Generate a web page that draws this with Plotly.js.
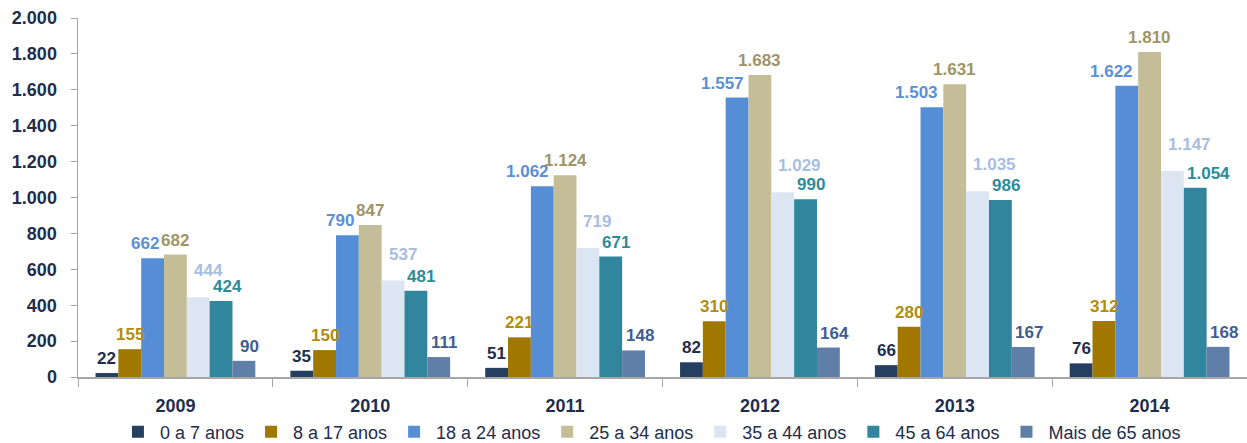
<!DOCTYPE html>
<html><head><meta charset="utf-8">
<script src="https://cdn.plot.ly/plotly-3.0.1.min.js"></script>
<style>html,body{margin:0;padding:0;background:#fff}#chart{width:1247px;height:443px}</style>
</head><body><div id="chart"></div>
<script>
var years = ['2009','2010','2011','2012','2013','2014'];
var seriesNames = ['0 a 7 anos','8 a 17 anos','18 a 24 anos','25 a 34 anos','35 a 44 anos','45 a 64 anos','Mais de 65 anos'];
var age0to7 = [22,35,51,82,66,76];
var age8to17 = [155,150,221,310,280,312];
var age18to24 = [662,790,1062,1557,1503,1622];
var age25to34 = [682,847,1124,1683,1631,1810];
var age35to44 = [444,537,719,1029,1035,1147];
var age45to64 = [424,481,671,990,986,1054];
var age65plus = [90,111,148,164,167,168];
var seriesValues = [age0to7,age8to17,age18to24,age25to34,age35to44,age45to64,age65plus];
var barColors = ['#243F60','#A07800','#558ED5','#C4BD97','#DCE6F2','#31859C','#5F7EA8'];
var labelColors = ['#1F2D4D','#B08C10','#5B8FD8','#9E9468','#A8BEE0','#2E8B9A','#3F5E8F'];

// label placement style (per series): anchor, pixel nudge, extra lift
var labelAnchor = ['center','center','right','center','left','left','center'];
var labelNudge  = [0,0,-3,0,5,1,6];
var labelLift   = [3,3,3,3,15,3,3];

var M = {l:78, r:0, t:18, b:66};
var W = 1247, H = 443, BARGAP = 0.18;
var catW = (W - M.l - M.r) / years.length;
var barW = catW * (1 - BARGAP) / seriesValues.length;

function fmt(n){ return String(n).replace(/\B(?=(\d{3})+(?!\d))/g, '.'); }

var traces = seriesValues.map(function(v,i){
  return {
    type:'bar', name:seriesNames[i], x:years, y:v,
    marker:{color:barColors[i], line:{width:0}},
    hoverinfo:'skip'
  };
});

var annotations = [];
seriesValues.forEach(function(v,i){
  var center = (i - (seriesValues.length-1)/2) * barW;
  var shift = center + labelNudge[i];
  if (labelAnchor[i] === 'right') shift = center + barW/2 + labelNudge[i];
  if (labelAnchor[i] === 'left') shift = center - barW/2 + labelNudge[i];
  v.forEach(function(val,j){
    annotations.push({
      x: j, y: val, xref:'x', yref:'y', text: fmt(val), showarrow:false,
      xanchor: labelAnchor[i], yanchor:'bottom', xshift: shift, yshift: labelLift[i],
      font:{family:'Arial, Liberation Sans, sans-serif', size:17, color:labelColors[i], weight:'bold'}
    });
  });
});

var layout = {
  width:W, height:H,
  margin:M,
  separators:',.',
  barmode:'group', bargap:BARGAP, bargroupgap:0,
  plot_bgcolor:'#fff', paper_bgcolor:'#fff',
  showlegend:true,
  annotations: annotations,
  legend:{orientation:'h', x:0.522, xanchor:'center', xref:'container', y:0.025, yref:'container', yanchor:'middle',
    font:{family:'Arial, Liberation Sans, sans-serif', size:18, color:'#1F2D4D'},
    traceorder:'normal', itemwidth:34},
  xaxis:{type:'category', range:[-0.5, years.length-0.5], showline:true, linecolor:'#A6A6A6', linewidth:1.5,
    ticks:'outside', tickson:'boundaries', ticklen:8, tickcolor:'#A6A6A6', ticklabelstandoff:12,
    tickfont:{family:'Arial, Liberation Sans, sans-serif', size:18, color:'#1F2D4D', weight:'bold'},
    showgrid:false, fixedrange:true},
  yaxis:{range:[0,2000], dtick:200, tickformat:',', showline:true, linecolor:'#A6A6A6', linewidth:1.5,
    ticks:'outside', ticklen:6, tickcolor:'#A6A6A6', showgrid:false, zeroline:false, ticklabelstandoff:10,
    tickfont:{family:'Arial, Liberation Sans, sans-serif', size:18, color:'#1F2D4D', weight:'bold'},
    fixedrange:true}
};
Plotly.newPlot('chart', traces, layout, {displayModeBar:false, staticPlot:true});
</script></body></html>
